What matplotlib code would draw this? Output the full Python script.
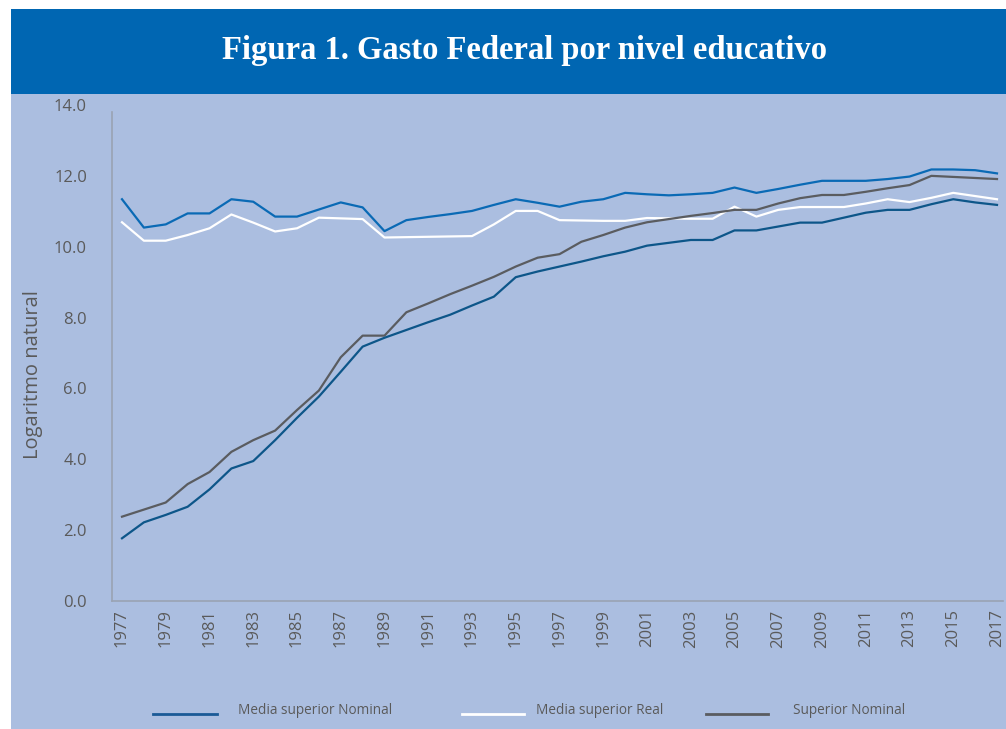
import matplotlib
matplotlib.use("Agg")
import matplotlib.pyplot as plt
from matplotlib.patches import Rectangle
from matplotlib.lines import Line2D

years = list(range(1977, 2018))

media_superior_nominal = [11.34, 10.54, 10.63, 10.94, 10.94, 11.34, 11.27, 10.85, 10.85, 11.05,
                          11.25, 11.11, 10.44, 10.75, 10.84, 10.92, 11.01, 11.18, 11.34, 11.24,
                          11.13, 11.27, 11.34, 11.52, 11.48, 11.45, 11.48, 11.52, 11.67, 11.52,
                          11.63, 11.75, 11.86, 11.86, 11.86, 11.91, 11.98, 12.18, 12.18, 12.16,
                          12.07]
media_superior_real = [10.69, 10.17, 10.17, 10.33, 10.52, 10.91, 10.68, 10.43, 10.52, 10.82,
                       10.80, 10.78, 10.26, 10.27, 10.28, 10.29, 10.30, 10.63, 11.01, 11.01,
                       10.75, 10.74, 10.73, 10.73, 10.81, 10.80, 10.79, 10.79, 11.13, 10.85,
                       11.04, 11.12, 11.12, 11.12, 11.22, 11.34, 11.26, 11.38, 11.52, 11.43,
                       11.34]
superior_nominal = [2.38, 2.58, 2.78, 3.30, 3.64, 4.21, 4.54, 4.81, 5.39, 5.94,
                    6.88, 7.49, 7.49, 8.15, 8.40, 8.66, 8.90, 9.15, 9.44, 9.69,
                    9.79, 10.14, 10.33, 10.54, 10.69, 10.78, 10.87, 10.95, 11.04, 11.04,
                    11.22, 11.37, 11.46, 11.46, 11.55, 11.65, 11.74, 12.00, 11.97, 11.94,
                    11.91]
superior_real = [1.77, 2.22, 2.43, 2.66, 3.15, 3.74, 3.95, 4.54, 5.17, 5.77,
                 6.47, 7.18, 7.43, 7.65, 7.87, 8.08, 8.34, 8.59, 9.14, 9.30,
                 9.44, 9.58, 9.73, 9.86, 10.03, 10.11, 10.19, 10.19, 10.46, 10.46,
                 10.57, 10.68, 10.68, 10.82, 10.96, 11.04, 11.04, 11.20, 11.34, 11.25,
                 11.18]

y_ticks = [0, 2, 4, 6, 8, 10, 12, 14]
x_tick_years = list(range(1977, 2018, 2))
legend_labels = ["Media superior Nominal", "Media superior Real", "Superior Nominal"]
title = "Figura 1. Gasto Federal por nivel educativo"
y_label = "Logaritmo natural"

W, H = 1006, 729
fig = plt.figure(figsize=(W / 100, H / 100), dpi=100)
fig.patch.set_facecolor("white")

panel_color = "#abbee0"
bar_color = "#0066b2"
c_top = "#0a6ab5"
c_dark = "#0d5689"
c_gray = "#5a5c60"
c_text = "#5a5a5a"

# background panel and title bar
fig.patches.append(Rectangle((11 / W, 0), 1 - 11 / W, 1 - 94 / H, transform=fig.transFigure,
                             facecolor=panel_color, edgecolor="none", zorder=-10))
fig.patches.append(Rectangle((11 / W, 1 - 94 / H), 1 - 11 / W, 85 / H, transform=fig.transFigure,
                             facecolor=bar_color, edgecolor="none", zorder=-10))
fig.text(525 / W, 1 - 51 / H, title, ha="center", va="center", color="white",
         fontsize=23.5, fontweight="bold", family="Liberation Serif")

ax = fig.add_axes([112 / W, 1 - 601 / H, 891 / W, 496 / H])
ax.set_facecolor("none")
x0 = 1977 - 10 / 21.875
x1 = 1977 + 891 / 21.875 - 10 / 21.875
ax.set_xlim(x0, x1)
ax.set_ylim(0, 14)

lw = 1.6
ax.plot(years, media_superior_nominal, color=c_top, lw=lw)
ax.plot(years, media_superior_real, color="white", lw=lw)
ax.plot(years, superior_nominal, color=c_gray, lw=lw)
ax.plot(years, superior_real, color=c_dark, lw=lw)

for s in ["top", "right"]:
    ax.spines[s].set_visible(False)
for s in ["left", "bottom"]:
    ax.spines[s].set_color("#9aa3b3")
    ax.spines[s].set_linewidth(1.2)
ax.spines["left"].set_bounds(0, 13.8)

ax.set_yticks(y_ticks)
ax.set_yticklabels([f"{v:.1f}" for v in y_ticks], fontsize=12, color=c_text, family="Open Sans")
ax.set_xticks(x_tick_years)
ax.set_xticklabels([str(y) for y in x_tick_years], rotation=90, fontsize=12, color=c_text,
                   family="Open Sans")
ax.tick_params(axis="both", length=0)
ax.tick_params(axis="y", pad=18)
ax.tick_params(axis="x", pad=6)

fig.text(33 / W, 1 - 375 / H, y_label, rotation=90, ha="center", va="center",
         fontsize=14.5, color=c_text, family="Open Sans")

# legend built manually
leg_y = 1 - 714 / H
items = [(153, 217, 238, legend_labels[0], "#1a5a96"),
         (462, 524, 536, legend_labels[1], "white"),
         (706, 768, 793, legend_labels[2], c_gray)]
for xa, xb, xt, lab, col in items:
    fig.add_artist(Line2D([xa / W, xb / W], [leg_y, leg_y], transform=fig.transFigure,
                          color=col, lw=2))
    fig.text(xt / W, leg_y + 3 / H, lab, ha="left", va="center", fontsize=9.8,
             color=c_text, family="Open Sans")

fig.savefig("out.png", dpi=100, facecolor=fig.get_facecolor())
